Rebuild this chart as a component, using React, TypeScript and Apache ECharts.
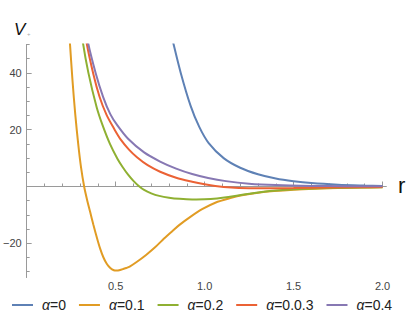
import React, { useEffect, useRef } from 'react';
import * as echarts from 'echarts';

// ---- data ----
const seriesNames = ['α=0', 'α=0.1', 'α=0.2', 'α=0.0.3', 'α=0.4'];
const seriesColors = ['#5e81b5', '#e19c24', '#8fb032', '#eb6235', '#8778b3'];

const rAlpha0 = [0.80, 0.82, 0.866, 0.921, 0.97, 1.023, 1.107, 1.2, 1.3, 1.4, 1.5, 1.6, 1.75, 1.9, 2.0];
const vAlpha0 = [57, 51.6, 40.0, 28.5, 21.0, 15.3, 10.0, 6.6, 4.3, 2.8, 1.85, 1.2, 0.65, 0.35, 0.2];

const rAlpha1 = [0.236, 0.242, 0.258, 0.273, 0.29, 0.305, 0.323, 0.34, 0.357, 0.375, 0.394, 0.412, 0.431, 0.45, 0.47, 0.49, 0.505, 0.52, 0.54, 0.56, 0.579, 0.62, 0.671, 0.72, 0.764, 0.81, 0.857, 0.92, 0.986, 1.06, 1.15, 1.21, 1.3, 1.39, 1.5, 1.62, 1.75, 1.88, 2.0];
const vAlpha1 = [58, 51.6, 37.0, 25.5, 14.8, 7.0, 0, -4.8, -9.0, -13.5, -17.9, -21.7, -24.9, -27.2, -28.7, -29.5, -29.6, -29.5, -29.1, -28.7, -28.2, -26.5, -24.1, -21.5, -18.8, -16.2, -13.6, -10.7, -8.0, -5.7, -4.0, -3.1, -2.2, -1.6, -1.1, -0.75, -0.5, -0.35, -0.25];

const rAlpha2 = [0.305, 0.314, 0.347, 0.393, 0.427, 0.468, 0.51, 0.54, 0.57, 0.6, 0.63, 0.66, 0.70, 0.745, 0.80, 0.86, 0.93, 1.0, 1.07, 1.134, 1.22, 1.32, 1.42, 1.5, 1.65, 1.8, 2.0];
const vAlpha2 = [58, 51.6, 40.0, 28.0, 21.5, 15.0, 9.8, 6.8, 4.2, 2.0, 0.2, -1.2, -2.4, -3.3, -3.95, -4.35, -4.55, -4.5, -4.2, -3.7, -2.8, -1.9, -1.3, -1.0, -0.65, -0.45, -0.3];

const rAlpha3 = [0.325, 0.334, 0.375, 0.41, 0.449, 0.49, 0.53, 0.575, 0.62, 0.68, 0.75, 0.84, 0.93, 1.0, 1.06, 1.15, 1.25, 1.35, 1.5, 1.7, 2.0];
const vAlpha3 = [58, 51.6, 39.5, 31.5, 25.2, 20.5, 16.4, 13.0, 10.3, 7.5, 5.2, 3.1, 1.7, 0.8, 0.2, -0.35, -0.6, -0.65, -0.55, -0.35, -0.2];

const rAlpha4 = [0.333, 0.342, 0.388, 0.43, 0.47, 0.51, 0.57, 0.66, 0.75, 0.84, 0.93, 1.02, 1.12, 1.25, 1.4, 1.6, 1.8, 2.0];
const vAlpha4 = [58, 51.6, 39.9, 31.5, 25.5, 21.5, 16.8, 12.0, 8.8, 6.3, 4.4, 3.0, 1.9, 1.0, 0.5, 0.22, 0.1, 0.05];

const seriesR = [rAlpha0, rAlpha1, rAlpha2, rAlpha3, rAlpha4];
const seriesV = [vAlpha0, vAlpha1, vAlpha2, vAlpha3, vAlpha4];

const xMajorTicks = [0.5, 1.0, 1.5, 2.0];
const xMinorTicks = [0.1, 0.2, 0.3, 0.4, 0.6, 0.7, 0.8, 0.9, 1.1, 1.2, 1.3, 1.4, 1.6, 1.7, 1.8, 1.9];
const yMajorTicks = [-20, 20, 40];
const yMinorTicks = [-30, -25, -15, -10, -5, 5, 10, 15, 25, 30, 35, 45, 50];

const X_MIN = 0;
const X_MAX = 2.02;
const Y_MIN = -32;
const Y_MAX = 50;

const FONT = '"Liberation Sans", Arial, sans-serif';
const AXIS_COLOR = '#9a9a9a';
const LABEL_COLOR = '#444';
// thin horizontal bar icon (anchored to a 21x14 box so it is not stretched)
const LEGEND_ICON = 'path://M0,0 L0,0 M0,6 L21,6 L21,8 L0,8 Z M21,14 L21,14';

export default function App() {
  const ref = useRef<HTMLDivElement>(null);

  useEffect(() => {
    if (!ref.current) return;
    const chart = echarts.init(ref.current, null, { renderer: 'svg' });

    const baseX = {
      type: 'value',
      min: X_MIN,
      max: X_MAX,
      position: 'bottom',
      splitLine: { show: false },
    };
    const baseY = {
      type: 'value',
      min: Y_MIN,
      max: Y_MAX,
      position: 'left',
      splitLine: { show: false },
    };

    chart.setOption({
      animation: false,
      backgroundColor: '#ffffff',
      grid: { left: 22.5, top: 44.5, width: 363.6, height: 232.9, containLabel: false },
      xAxis: [
        {
          ...baseX,
          axisLine: { show: true, onZero: true, lineStyle: { color: AXIS_COLOR, width: 1 } },
          axisTick: { show: true, inside: true, length: 3, customValues: xMinorTicks, lineStyle: { color: AXIS_COLOR } },
          axisLabel: { show: false },
        },
        {
          ...baseX,
          axisLine: { show: true, onZero: true, lineStyle: { color: AXIS_COLOR, width: 1 } },
          axisTick: { show: true, inside: true, length: 5, customValues: xMajorTicks, lineStyle: { color: AXIS_COLOR } },
          axisLabel: {
            show: true,
            customValues: xMajorTicks,
            margin: 3,
            color: LABEL_COLOR,
            fontSize: 11,
            fontFamily: FONT,
            formatter: (v: number) => v.toFixed(1),
          },
        },
      ],
      yAxis: [
        {
          ...baseY,
          axisLine: { show: true, onZero: true, lineStyle: { color: AXIS_COLOR, width: 1 } },
          axisTick: { show: true, inside: true, length: 3, customValues: yMinorTicks, lineStyle: { color: AXIS_COLOR } },
          axisLabel: { show: false },
        },
        {
          ...baseY,
          axisLine: { show: true, onZero: true, lineStyle: { color: AXIS_COLOR, width: 1 } },
          axisTick: { show: true, inside: true, length: 5, customValues: yMajorTicks, lineStyle: { color: AXIS_COLOR } },
          axisLabel: {
            show: true,
            customValues: yMajorTicks,
            margin: 5,
            color: LABEL_COLOR,
            fontSize: 11,
            fontFamily: FONT,
            formatter: (v: number) => (v < 0 ? '\u2212' + Math.abs(v) : String(v)),
          },
        },
      ],
      legend: {
        show: true,
        left: 7,
        top: 293,
        icon: LEGEND_ICON,
        itemWidth: 21,
        itemHeight: 14,
        itemGap: 13,
        data: seriesNames,
        formatter: (name: string) => '{a|α}' + name.slice(1),
        textStyle: {
          fontSize: 14,
          fontFamily: FONT,
          color: '#222',
          padding: [0, 0, 0, 4],
          rich: {
            a: { fontSize: 14, fontFamily: FONT, fontStyle: 'italic', color: '#222' },
          },
        },
      },
      graphic: [
        {
          type: 'text',
          x: 14,
          y: 29,
          style: { text: 'V', fontSize: 17, fontStyle: 'italic', fontFamily: FONT, fill: '#111', verticalAlign: 'middle', align: 'left' },
        },
        {
          type: 'text',
          x: 27,
          y: 34,
          style: { text: '+', fontSize: 6, fontFamily: FONT, fill: '#aaa', verticalAlign: 'middle', align: 'left' },
        },
        {
          type: 'text',
          x: 398,
          y: 185,
          style: { text: 'r', fontSize: 22, fontFamily: FONT, fill: '#111', verticalAlign: 'middle', align: 'left' },
        },
      ],
      series: seriesNames.map((name, i) => ({
        name,
        type: 'line',
        xAxisIndex: 0,
        yAxisIndex: 0,
        data: seriesR[i].map((r, j) => [r, seriesV[i][j]]),
        showSymbol: false,
        symbol: 'none',
        smooth: 0.3,
        clip: true,
        color: seriesColors[i],
        itemStyle: { color: seriesColors[i] },
        lineStyle: { color: seriesColors[i], width: 2 },
      })),
    });

    return () => chart.dispose();
  }, []);

  return (
    <div
      ref={ref}
      style={{ position: 'absolute', left: 0, top: 0, width: 409, height: 317, background: '#fff' }}
    />
  );
}
